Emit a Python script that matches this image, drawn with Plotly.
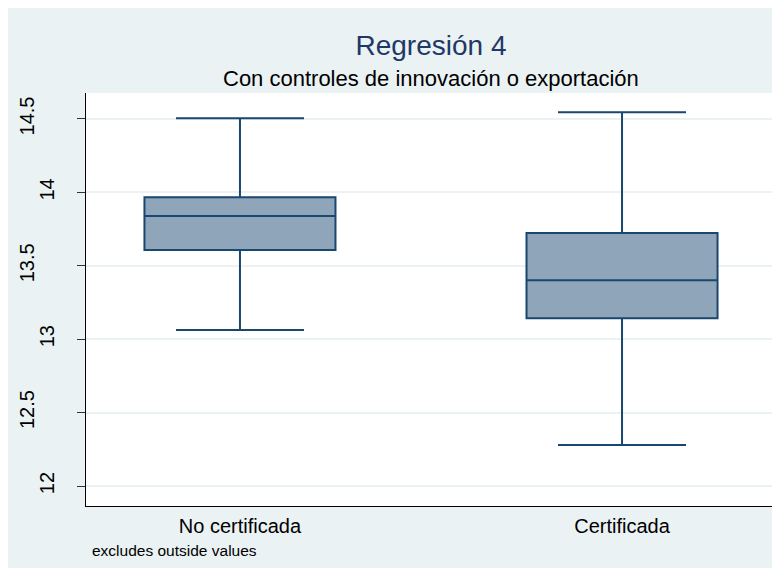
import plotly.graph_objects as go

# box statistics
grupos = ["No certificada", "Certificada"]
bigote_inf = [13.063, 12.279]
q1 = [13.608, 13.142]
mediana = [13.839, 13.401]
q3 = [13.967, 13.723]
bigote_sup = [14.505, 14.546]

ticks_enteros = [12, 13, 14]
ticks_medios = [12.5, 13.5, 14.5]

fondo = "#EAF2F3"
azul = "#1A476F"
relleno = "#8FA5B9"
fuente = "Liberation Sans, Arial, sans-serif"

fig = go.Figure()

for i, g in enumerate(grupos):
    fig.add_trace(go.Box(
        x=[g], q1=[q1[i]], median=[mediana[i]], q3=[q3[i]],
        lowerfence=[bigote_inf[i]], upperfence=[bigote_sup[i]],
        width=0.5, whiskerwidth=0.67,
        fillcolor=relleno, line=dict(color=azul, width=2),
        boxpoints=False, showlegend=False, hoverinfo="skip"))

# second y axis only carries the staggered half labels
fig.add_trace(go.Scatter(x=[grupos[0]], y=[13], yaxis="y2", mode="markers",
                         marker=dict(opacity=0), showlegend=False, hoverinfo="skip"))

rango_y = [11.864, 14.677]

fig.update_layout(
    width=772, height=560,
    margin=dict(l=78, r=4, t=85, b=62),
    paper_bgcolor=fondo, plot_bgcolor="white",
    font=dict(family=fuente, color="black"),
    title=dict(text="Regresión 4", x=0.5, xref="paper", xanchor="center",
               y=1 - 37 / 560, yref="container", yanchor="middle",
               font=dict(size=28, color="#1F3866", family=fuente)),
    xaxis=dict(type="category", categoryarray=grupos, range=[-0.403, 1.403],
               showgrid=False, ticks="", showline=True, linecolor="black", linewidth=1,
               tickfont=dict(size=20), ticklabelstandoff=2, zeroline=False),
    yaxis=dict(range=rango_y, tickvals=ticks_enteros + ticks_medios,
               ticktext=[str(v) for v in ticks_enteros] + ["", "", ""],
               tickangle=-90, tickfont=dict(size=20),
               ticks="outside", ticklen=8, tickcolor="#333333", tickwidth=1,
               showline=True, linecolor="black", linewidth=1, ticklabelstandoff=15,
               showgrid=True, gridcolor=fondo, gridwidth=1.5, zeroline=False),
    yaxis2=dict(range=rango_y, overlaying="y", side="left", tickvals=ticks_medios,
                ticktext=[str(v) for v in ticks_medios], tickangle=-90,
                tickfont=dict(size=20), ticks="", showgrid=False, showline=False,
                zeroline=False, ticklabelstandoff=47),
    annotations=[
        dict(text="Con controles de innovación o exportación", xref="paper", yref="paper",
             x=0.5, y=(498 - 70) / 413, xanchor="center", yanchor="middle",
             showarrow=False, font=dict(size=22, color="black")),
        dict(text="excludes outside values", xref="paper", yref="paper",
             x=(82 - 78) / 690, y=(498 - 542) / 413, xanchor="left", yanchor="middle",
             showarrow=False, font=dict(size=15.5, color="black")),
    ],
)

fig.write_html("out.html")
